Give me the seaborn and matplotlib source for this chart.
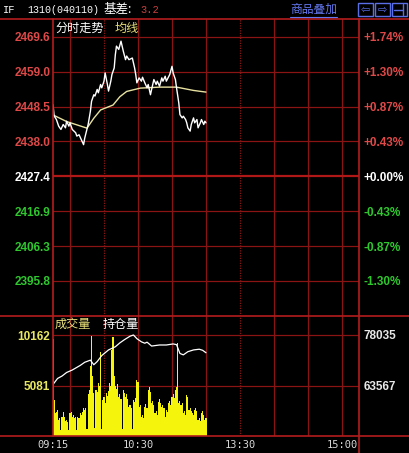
import matplotlib
matplotlib.use("Agg")
import matplotlib.pyplot as plt
from matplotlib.lines import Line2D
from matplotlib.patches import Rectangle
import seaborn as sns

# ===========================
# data
# ===========================
pre_close = 2427.4
price_ticks = [2469.6, 2459.0, 2448.5, 2438.0, 2427.4, 2416.9, 2406.3, 2395.8]
pct_labels = ['+1.74%', '+1.30%', '+0.87%', '+0.43%', '+0.00%', '-0.43%', '-0.87%', '-1.30%']

# minutes after 09:15 on the trading clock (11:30 and 13:00 share one spot)
time_ticks = [0, 75, 165, 255]
time_labels = ['09:15', '10:30', '13:30', '15:00']
grid_minutes = [15, 45, 75, 105, 135, 165, 195, 225, 255]
dotted_minutes = [45, 165]

price_t = [0, 1, 3, 5, 7, 9, 11, 12, 14, 15, 17, 20, 21, 23, 25, 27, 28, 31, 33, 34,
           36, 37, 39, 40, 42, 43, 45, 46, 48, 49, 51, 52, 54, 55, 56, 58, 60, 62, 64, 65,
           67, 70, 72, 73, 74, 76, 78, 79, 81, 83, 84, 86, 87, 89, 91, 92, 94, 96, 97, 99,
           100, 103, 105, 106, 108, 109, 111, 112, 114, 115, 117, 118, 119, 121, 122, 124,
           125, 127, 128, 130, 131, 133, 134, 135]
price = [2449.1, 2445.7, 2444.6, 2442.6, 2441.6, 2443.1, 2442.1, 2444.1, 2442.6, 2443.6,
         2441.6, 2440.6, 2439.6, 2440.0, 2438.5, 2437.0, 2439.0, 2443.1, 2447.1, 2450.1,
         2452.1, 2451.7, 2453.7, 2452.7, 2455.2, 2454.2, 2456.2, 2458.7, 2455.2, 2453.2,
         2456.2, 2458.2, 2460.2, 2464.2, 2466.8, 2465.8, 2468.3, 2465.3, 2462.7, 2463.8,
         2462.7, 2463.2, 2460.2, 2458.2, 2455.7, 2457.2, 2456.2, 2457.4, 2455.7, 2454.2,
         2455.2, 2452.1, 2453.7, 2456.7, 2455.2, 2456.2, 2454.7, 2457.2, 2456.2, 2457.7,
         2456.2, 2458.2, 2460.7, 2458.7, 2456.7, 2454.2, 2449.6, 2446.1, 2445.1, 2445.6,
         2444.6, 2443.6, 2442.1, 2441.1, 2443.1, 2445.1, 2443.6, 2444.6, 2442.1, 2443.6,
         2444.6, 2443.1, 2444.1, 2443.6]

avg_t = [0, 12, 21, 30, 36, 42, 53, 59, 65, 77, 94, 109, 124, 135]
avg_price = [2446.0, 2444.0, 2443.0, 2442.0, 2445.0, 2447.5, 2449.0, 2451.5, 2453.1,
             2454.1, 2454.4, 2454.4, 2453.4, 2452.9]

vol_t = list(range(136))
volume = [9800, 3640, 2300, 2460, 2600, 1620, 1800, 600, 1950, 2460,
          1950, 1500, 1620, 1450, 600, 2290, 2460, 1950, 2100, 1800,
          1950, 600, 1950, 1800, 2290, 2100, 2450, 2800, 2600, 2800,
          700, 4200, 4650, 7000, 10100, 6000, 4310, 800, 4650, 4400,
          5300, 5000, 8500, 700, 3640, 3970, 3300, 4310, 4000, 4500,
          5300, 5000, 8700, 10000, 6000, 5000, 4700, 5200, 3970, 4200,
          3700, 700, 4650, 4300, 3970, 4200, 3700, 2960, 3100, 2800,
          700, 3640, 3400, 3800, 5650, 5400, 2960, 3100, 1950, 2100,
          1800, 2960, 3200, 2800, 4650, 4900, 4400, 3300, 3500, 3100,
          2290, 2500, 2100, 3470, 3700, 3300, 2960, 3100, 2800, 1950,
          2630, 2400, 3300, 3500, 3100, 3970, 4200, 3800, 4650, 4900,
          9400, 3300, 3500, 3100, 3300, 2290, 2500, 2100, 4140, 3900,
          2630, 2800, 2500, 2290, 2100, 2630, 2800, 2500, 1620, 1800,
          1500, 2290, 2500, 2100, 1620, 1800]

oi_t = [0, 4, 8, 12, 17, 24, 28, 33, 36, 39, 43, 49, 55, 59, 63, 68, 71, 74, 78, 81,
        83, 87, 94, 100, 106, 109, 112, 115, 119, 124, 129, 132, 135]
open_interest = [64000, 65700, 66400, 67400, 68100, 69400, 70300, 70900, 69600, 70500,
                 72200, 73800, 74700, 75800, 76700, 77700, 78035, 77000, 76100, 75700,
                 76000, 74900, 75200, 75200, 75500, 75300, 72800, 72400, 73300, 73800,
                 74000, 73700, 73000]

vol_ticks = [5081, 10162]
oi_ticks = [63567, 78035]

# ===========================
# style
# ===========================
sns.set_theme(style="dark")
plt.rcParams['font.family'] = ['Liberation Sans', 'Noto Sans CJK SC', 'DejaVu Sans']

BG = 'black'
GRID = '#8a1414'
BORDER = '#b41c1c'
UP = '#e04848'
DOWN = '#2ec82e'
YELLOW = '#f4f40c'
AVG = '#e8e2a0'

W, H = 410, 453


def fx(x):
    return x / W


def fy(y):
    return 1 - y / H


fig = plt.figure(figsize=(W / 100, H / 100), dpi=100, facecolor=BG)
ax_p = fig.add_axes([fx(53), fy(316), 306 / W, 297 / H])
ax_v = fig.add_axes([fx(53), fy(436), 306 / W, 120 / H])

for ax in (ax_p, ax_v):
    ax.set_facecolor(BG)
    ax.set_xlim(0, 270)
    for s in ax.spines.values():
        s.set_visible(False)
    for m in grid_minutes:
        if m in dotted_minutes:
            ax.axvline(m, color=GRID, lw=0.9, ls=(0, (1, 1)), zorder=0)
        else:
            ax.axvline(m, color=GRID, lw=0.9, zorder=0)
    ax.grid(False)

# ===========================
# price panel
# ===========================
ax_p.set_ylim(2385.2, 2475.0)
for p in price_ticks:
    if p == pre_close:
        ax_p.axhline(p, color='#b01818', lw=1.6, zorder=0)
    else:
        ax_p.axhline(p, color=GRID, lw=0.9, zorder=0)

sns.lineplot(x=avg_t, y=avg_price, ax=ax_p, color=AVG, lw=1.0)
sns.lineplot(x=price_t, y=price, ax=ax_p, color='white', lw=1.0)

ax_p.set_xticks([])
ax_p.set_yticks(price_ticks)
ax_p.set_yticklabels([f'{p:.1f}' for p in price_ticks], fontsize=8.5, fontweight='bold')
ax_p.tick_params(axis='y', length=0, pad=2)
for lab, p in zip(ax_p.get_yticklabels(), price_ticks):
    lab.set_color(UP if p > pre_close else ('white' if p == pre_close else DOWN))

ax_pr = ax_p.twinx()
ax_pr.set_ylim(ax_p.get_ylim())
ax_pr.set_yticks(price_ticks)
ax_pr.set_yticklabels(pct_labels, fontsize=8.5, fontweight='bold')
ax_pr.tick_params(axis='y', length=0, pad=3)
for s in ax_pr.spines.values():
    s.set_visible(False)
ax_pr.grid(False)
for lab, p in zip(ax_pr.get_yticklabels(), price_ticks):
    lab.set_color(UP if p > pre_close else ('white' if p == pre_close else DOWN))
ax_p.set_xlabel('')
ax_p.set_ylabel('')
ax_pr.set_ylabel('')

# ===========================
# volume / open interest panel
# ===========================
ax_v.set_ylim(0, 12074)
for v in vol_ticks:
    ax_v.axhline(v, color=GRID, lw=0.9, zorder=0)
ax_v.bar(vol_t, volume, width=1.0, color=YELLOW, linewidth=0, zorder=2)

ax_v.set_yticks(vol_ticks)
ax_v.set_yticklabels([str(v) for v in vol_ticks], fontsize=8.5, fontweight='bold', color='#e8e860')
ax_v.tick_params(axis='y', length=0, pad=2)
ax_v.set_xticks(time_ticks)
ax_v.set_xticklabels(time_labels, fontsize=7.5, family='DejaVu Sans Mono', color='#d8d8d8')
ax_v.tick_params(axis='x', length=0, pad=3)

ax_o = ax_v.twinx()
ax_o.set_ylim(49382, 83425)
sns.lineplot(x=oi_t, y=open_interest, ax=ax_o, color='white', lw=0.9)
ax_o.set_yticks(oi_ticks)
ax_o.set_yticklabels([str(v) for v in oi_ticks], fontsize=8.5, fontweight='bold', color='#e8e8e8')
ax_o.tick_params(axis='y', length=0, pad=3)
for s in ax_o.spines.values():
    s.set_visible(False)
ax_o.grid(False)
ax_o.set_ylabel('')
ax_v.set_xlabel('')
ax_v.set_ylabel('')

# ===========================
# frame lines
# ===========================
def fig_line(x0, y0, x1, y1, color=BORDER, lw=1.2):
    fig.add_artist(Line2D([fx(x0), fx(x1)], [fy(y0), fy(y1)], color=color, lw=lw))


fig_line(0, 19, W, 19)
fig_line(0, 316, W, 316)
fig_line(0, 436, W, 436)
fig_line(53, 19, 53, 436)
fig_line(359, 19, 359, H)

# ===========================
# header texts
# ===========================
fig.text(fx(3), fy(10), 'IF', fontsize=7.5, family='Liberation Mono', color='white', va='center')
fig.text(fx(27), fy(10), '1310(040110)', fontsize=7.2, family='Liberation Mono', color='white', va='center')
fig.text(fx(104), fy(10), '基差:', fontsize=9, family=['Noto Sans CJK SC', 'DejaVu Sans'], color='white', va='center')
fig.text(fx(140), fy(10), '3.2', fontsize=7.5, family='Liberation Mono', color='#c84040', va='center')
fig.text(fx(290), fy(9), '商品叠加', fontsize=8.5, family=['Noto Sans CJK SC', 'DejaVu Sans'], color='#6478f0', va='center')
fig_line(290, 17, 337, 17, color='#6478f0', lw=0.8)

for i, sym in enumerate(['⇦', '⇨', '']):
    x0 = 358 + i * 17
    fig.add_artist(Rectangle((fx(x0), fy(16)), 15 / W, 13 / H, fill=False,
                             edgecolor='#5a6ee6', lw=1.0))
    if sym:
        fig.text(fx(x0 + 7.5), fy(9.5), sym, fontsize=8, family='DejaVu Sans',
                 color='#5a6ee6', ha='center', va='center')
fig_line(394, 9.5, 403, 9.5, color='#5a6ee6', lw=1.0)
fig_line(403, 4, 403, 15, color='#5a6ee6', lw=1.0)

fig.text(fx(55), fy(29), '分时走势', fontsize=8.7, color='white', va='center')
fig.text(fx(115), fy(29), '均线', fontsize=8.7, color='#e8e07a', va='center')
fig.text(fx(55), fy(325), '成交量', fontsize=8.7, color='#e8e07a', va='center')
fig.text(fx(103), fy(325), '持仓量', fontsize=8.7, color='white', va='center')

fig.savefig('out.png', dpi=100, facecolor=BG)
